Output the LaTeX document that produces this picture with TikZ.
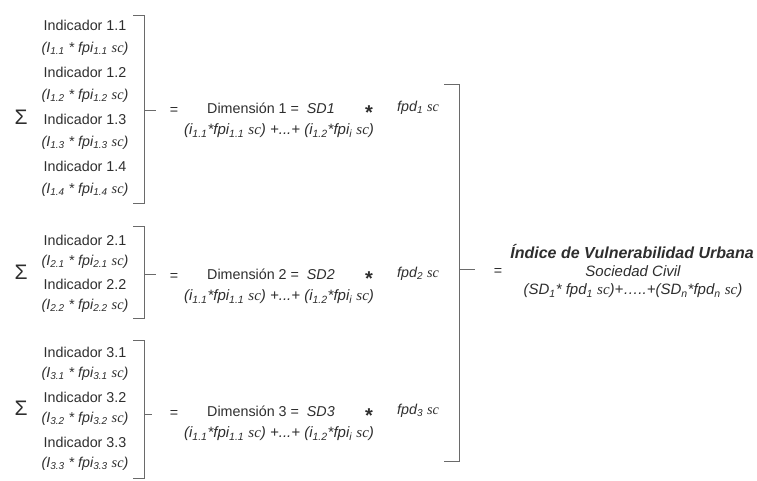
\documentclass[tikz,border=0pt]{standalone}
\usepackage{fontspec}
\setmainfont{Liberation Sans}
\newfontfamily\scserif{Liberation Serif}
\definecolor{txtgray}{HTML}{2E2E2E}
\definecolor{lngray}{HTML}{6A6A6A}
\newcommand{\sce}{{\scserif\itshape sc}}
\newcommand{\sbs}[1]{\textsubscript{#1}}
\begin{document}
\begin{tikzpicture}[x=1pt,y=-1pt,font=\fontsize{14.3}{16}\selectfont,
  txt/.style={text=txtgray,inner sep=1pt},
  brk/.style={draw=lngray,line width=0.8pt}]
\useasboundingbox (0,0) rectangle (757,480);
% first group of indicators
\foreach \k/\y in {1/25,2/72,3/119,4/166}{
  \node[txt] (ind1\k) at (85,\y) {Indicador 1.\k};
  \node[txt] (frm1\k) at (85,{\y+24}) {\itshape (I\sbs{1.\k} * fpi\sbs{1.\k} \sce)};
}
% second group
\foreach \k/\y in {1/240,2/284}{
  \node[txt] (ind2\k) at (85,\y) {Indicador 2.\k};
  \node[txt] (frm2\k) at (85,{\y+22}) {\itshape (I\sbs{2.\k} * fpi\sbs{2.\k} \sce)};
}
% third group
\foreach \k/\y in {1/352,2/397,3/442}{
  \node[txt] (ind3\k) at (85,\y) {Indicador 3.\k};
  \node[txt] (frm3\k) at (85,{\y+22}) {\itshape (I\sbs{3.\k} * fpi\sbs{3.\k} \sce)};
}
\node[txt,font=\fontsize{21}{22}\selectfont] (sum1) at (21,117) {Σ};
\node[txt,font=\fontsize{21}{22}\selectfont] (sum2) at (21,272) {Σ};
\node[txt,font=\fontsize{21}{22}\selectfont] (sum3) at (21,408) {Σ};
% brackets of the groups
\draw[brk] (133,15) -- (144,15) -- (144,203) -- (133,203);
\draw[brk] (144,110) -- (156,110);
\draw[brk] (133,226) -- (144,226) -- (144,318) -- (133,318);
\draw[brk] (144,274) -- (156,274);
\draw[brk] (133,340) -- (144,340) -- (144,478) -- (133,478);
\draw[brk] (144,414) -- (152,414);
% dimensions
\foreach \d/\y in {1/108,2/274,3/411}{
  \node[txt] (eq\d) at (174,{\y+3}) {=};
  \node[txt,anchor=west] (dim\d) at (206,\y) {Dimensión \d\ = \ \textit{SD\d}};
  \node[txt,font=\fontsize{20}{20}\selectfont\bfseries] (ast\d) at (369,{\y+5}) {*};
  \node[txt,anchor=west] (fpd\d) at (396,\y) {\textit{fpd\sbs{\d}} \sce};
  \node[txt,font=\fontsize{15}{17}\selectfont] (sumd\d) at (279,{\y+23}) {\itshape (i\sbs{1.1}*fpi\sbs{1.1} \sce) +...+ (i\sbs{1.2}*fpi\sbs{i} \sce)};
}
% big bracket
\draw[brk] (444,84) -- (459,84) -- (459,461) -- (444,461);
\draw[brk] (459,269) -- (475,269);
\node[txt] (eqf) at (498,272) {=};
\node[txt,font=\fontsize{16}{18}\selectfont\bfseries\itshape] (ivu) at (632,252) {Índice de Vulnerabilidad Urbana};
\node[txt,font=\fontsize{15}{17}\selectfont\itshape] (soc) at (633,271) {Sociedad Civil};
\node[txt,font=\fontsize{15}{17}\selectfont\itshape] (fml) at (633,291) {(SD\sbs{1}* fpd\sbs{1} \sce)+…..+(SD\sbs{n}*fpd\sbs{n} \sce)};
\end{tikzpicture}
\end{document}
